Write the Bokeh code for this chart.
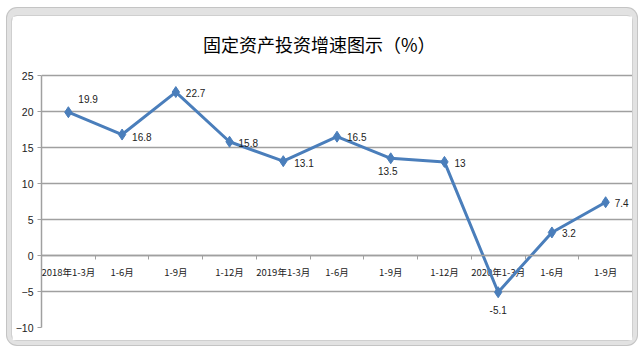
from bokeh.plotting import figure
from bokeh.models import FixedTicker, ColumnDataSource, Range1d, Label
from bokeh.embed import file_html
from bokeh.resources import INLINE
from bokeh.core.properties import value

# ---- data ----
categories = ["2018年1-3月", "1-6月", "1-9月", "1-12月", "2019年1-3月", "1-6月",
              "1-9月", "1-12月", "2020年1-3月", "1-6月", "1-9月"]
growth = [19.9, 16.8, 22.7, 15.8, 13.1, 16.5, 13.5, 13, -5.1, 3.2, 7.4]
value_labels = ["19.9", "16.8", "22.7", "15.8", "13.1", "16.5", "13.5", "13", "-5.1", "3.2", "7.4"]
y_ticks = [-10, -5, 0, 5, 10, 15, 20, 25]
title_text = "固定资产投资增速图示（%）"

# ---- label placement styles ----
lbl_dx = [10, 10, 10, 9, 11, 10, -3, 10, 0, 10, 9]
lbl_dy = [-13, 2, 1, 1, 2, 0, 13, 1, 18, 1, 1]
lbl_align = ["left"] * 6 + ["center", "left", "center", "left", "left"]

idx = list(range(len(categories)))
boundaries = [i + 0.5 for i in idx[:-1]]

src = ColumnDataSource(dict(x=idx, y=growth, lbl=value_labels, dx=lbl_dx, dy=lbl_dy,
                            al=lbl_align, cat=categories, zero=[0] * len(idx)))

# layout: plot frame spans the chart area; the value axis covers only the tick span,
# the space above it (title area) is 59px, at 7.2 px per unit
W, H = 620, 324
top_space_px, px_per_unit = 59, 7.2
y_top = y_ticks[-1] + top_space_px / px_per_unit

frame_shadow = ", ".join([
    "0 0 0 1px #cfcfcf",
    "0 0 0 5px #e2e2e2",
    "0 -3px 0 5px #e2e2e2",
    "0 0 0 6px #c4c4c4",
    "0 -3px 0 6px #c4c4c4",
])

p = figure(width=W, height=H, output_backend="svg", toolbar_location=None,
           x_range=Range1d(-0.5, len(idx) - 0.5), y_range=Range1d(y_ticks[0], y_top),
           min_border_left=28, min_border_right=0, min_border_top=0, min_border_bottom=13,
           styles={"margin-left": "12px", "margin-top": "16px",
                   "border-radius": "5px", "box-shadow": frame_shadow})
p.background_fill_color = "white"
p.border_fill_color = "white"
p.outline_line_color = None

# title
p.add_layout(Label(x=4.67, y=y_ticks[-1] + 32 / px_per_unit, x_units="data", y_units="data",
                   text=title_text, text_align="center", text_baseline="middle",
                   text_font="Noto Sans CJK SC", text_font_size="18px", text_color="black"))

# y axis
p.yaxis.bounds = (y_ticks[0], y_ticks[-1])
p.yaxis.ticker = FixedTicker(ticks=y_ticks)
p.yaxis.axis_line_color = "#a0a0a0"
p.yaxis.axis_line_width = 1.5
p.yaxis.major_tick_line_color = "#a0a0a0"
p.yaxis.major_tick_out = 4
p.yaxis.major_tick_in = 0
p.yaxis.minor_tick_line_color = None
p.yaxis.major_label_standoff = 4
p.yaxis.major_label_text_font = "Liberation Sans"
p.yaxis.major_label_text_font_size = "10.5px"
p.yaxis.major_label_text_color = "#222222"

# x axis at zero with boundary ticks
p.xaxis.fixed_location = 0
p.xaxis.ticker = FixedTicker(ticks=boundaries)
p.xaxis.major_label_overrides = {b: "" for b in boundaries}
p.xaxis.major_label_text_font_size = "1px"
p.xaxis.major_label_standoff = 0
p.xaxis.axis_line_color = "#a0a0a0"
p.xaxis.axis_line_width = 1.5
p.xaxis.major_tick_line_color = "#a0a0a0"
p.xaxis.major_tick_out = 4
p.xaxis.major_tick_in = 0
p.xaxis.minor_tick_line_color = None

# grid
p.xgrid.visible = False
p.ygrid.ticker = FixedTicker(ticks=y_ticks)
p.ygrid.grid_line_color = "#a0a0a0"
p.ygrid.grid_line_width = 1.5

# category labels
p.text(x="x", y="zero", text="cat", source=src, y_offset=16,
       text_align="center", text_baseline="middle",
       text_font=value("Noto Sans CJK SC"), text_font_size="9.5px", text_color="#222222")

# series
blue = "#4a7ebb"
p.line(x="x", y="y", source=src, line_color=blue, line_width=3)
p.scatter(x="x", y="y", source=src, marker="diamond", size=11, fill_color=blue, line_color=blue)

# data labels
p.text(x="x", y="y", text="lbl", source=src, x_offset="dx", y_offset="dy",
       text_align="al", text_baseline="middle",
       text_font=value("Liberation Sans"), text_font_size="10px", text_color="#222222")

open("out.html", "w").write(file_html(p, INLINE))
